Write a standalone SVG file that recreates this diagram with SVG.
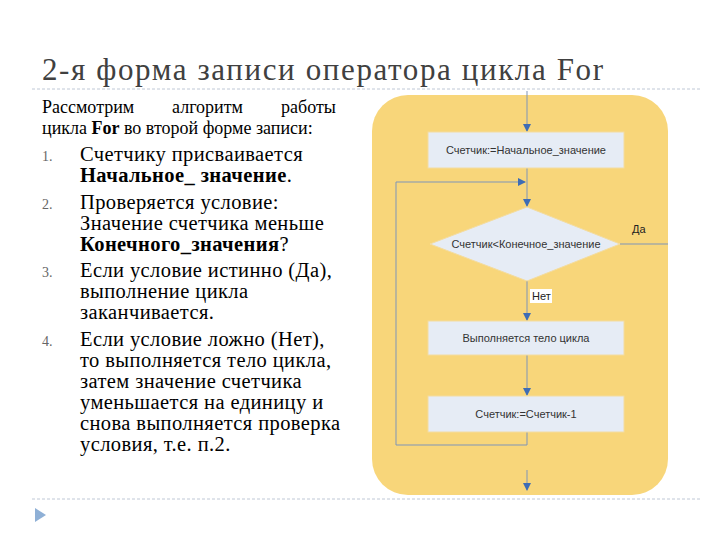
<svg xmlns="http://www.w3.org/2000/svg" width="720" height="540" viewBox="0 0 720 540">
<style>
.t{font-size:20.5px;letter-spacing:0.4px;fill:#000}
.n{font-size:14px;fill:#666}
.b{fill:#e6ecf5;stroke:#f3dca0;stroke-width:1}
.l{font-family:"Liberation Sans",sans-serif;font-size:11px;fill:#333;text-anchor:middle}
.c{stroke:#7f95b8;stroke-width:1;fill:none}
.d{stroke:#bfc8d6;stroke-dasharray:3,2;stroke-width:1}
</style>
<defs><marker id="a" markerWidth="8" markerHeight="8" refX="7" refY="4" orient="auto" markerUnits="userSpaceOnUse"><path d="M0,0L8,4L0,8z" fill="#3e6db5"/></marker></defs>
<rect width="720" height="540" fill="#fff"/>
<text x="42" y="80" font-family="Liberation Serif, DejaVu Serif, serif" font-size="31" fill="#404040" textLength="561" lengthAdjust="spacing">2-я форма записи оператора цикла For</text>
<line class="d" x1="32" y1="89" x2="700" y2="89"/>
<line class="d" x1="32" y1="499" x2="700" y2="499"/>
<path d="M35,508L46,515L35,522z" fill="#8fb0d6"/>
<g id="text" font-family="Liberation Serif, DejaVu Serif, serif">
<text class="t" x="42" y="113" style="font-size:18px;letter-spacing:0">Рассмотрим<tspan x="172">алгоритм</tspan><tspan x="281">работы</tspan></text>
<text class="t" x="42" y="134" style="font-size:18px;letter-spacing:0">цикла <tspan font-weight="bold">For</tspan> во второй форме записи:</text>
<text class="n" x="42" y="161">1.</text>
<text class="t" x="80" y="161">Счетчику присваивается</text>
<text class="t" x="80" y="182"><tspan font-weight="bold">Начальное_ значение</tspan>.</text>
<text class="n" x="42" y="209">2.</text>
<text class="t" x="80" y="209">Проверяется условие:</text>
<text class="t" x="80" y="230">Значение счетчика меньше</text>
<text class="t" x="80" y="251"><tspan font-weight="bold">Конечного_значения</tspan>?</text>
<text class="n" x="42" y="277">3.</text>
<text class="t" x="80" y="277">Если условие истинно (Да),</text>
<text class="t" x="80" y="298">выполнение цикла</text>
<text class="t" x="80" y="319">заканчивается.</text>
<text class="n" x="42" y="346">4.</text>
<text class="t" x="80" y="346">Если условие ложно (Нет),</text>
<text class="t" x="80" y="367">то выполняется тело цикла,</text>
<text class="t" x="80" y="388">затем значение счетчика</text>
<text class="t" x="80" y="409">уменьшается на единицу и</text>
<text class="t" x="80" y="430">снова выполняется проверка</text>
<text class="t" x="80" y="451">условия, т.е. п.2.</text>
</g>
<rect x="372" y="95" width="296" height="400" rx="36" fill="#f8d67a"/>
<g id="connectors">
<line class="c" x1="527" y1="91" x2="527" y2="131" marker-end="url(#a)"/>
<line class="c" x1="527" y1="168" x2="527" y2="206" marker-end="url(#a)"/>
<line class="c" x1="527" y1="281" x2="527" y2="320" marker-end="url(#a)"/>
<line class="c" x1="527" y1="355" x2="527" y2="395" marker-end="url(#a)"/>
<polyline class="c" points="527,432 527,445 396,445 396,182 525,182" marker-end="url(#a)"/>
<line class="c" x1="620" y1="244" x2="668" y2="244"/>
<line class="c" x1="527" y1="470" x2="527" y2="490" marker-end="url(#a)"/>
<text x="632" y="233" style="font-family:'Liberation Sans',sans-serif;font-size:11px;fill:#222">Да</text>
<rect x="530" y="289" width="22" height="14" fill="#fff"/>
<text x="532" y="300" style="font-family:'Liberation Sans',sans-serif;font-size:11px;fill:#222">Нет</text>
</g>
<g id="n1"><rect class="b" x="428" y="132" width="196" height="36"/><text class="l" x="526" y="154">Счетчик:=Начальное_значение</text></g>
<g id="n2"><path class="b" d="M527,207L620,244L527,281L430,244z"/><text class="l" x="526" y="248">Счетчик&lt;Конечное_значение</text></g>
<g id="n3"><rect class="b" x="428" y="321" width="196" height="34"/><text class="l" x="526" y="342">Выполняется тело цикла</text></g>
<g id="n4"><rect class="b" x="428" y="396" width="196" height="36"/><text class="l" x="526" y="418">Счетчик:=Счетчик-1</text></g>
</svg>
